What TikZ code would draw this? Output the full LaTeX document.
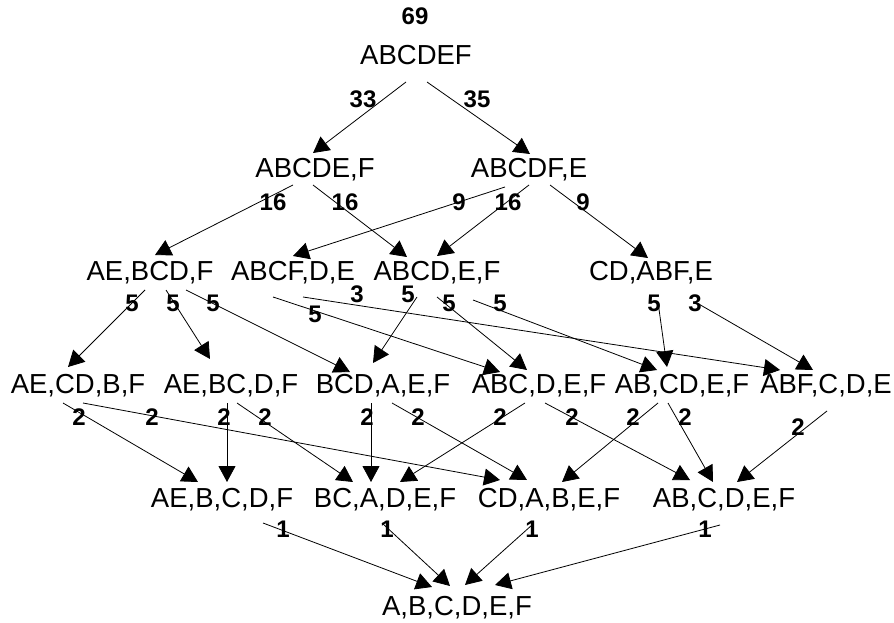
\documentclass[tikz,border=0pt]{standalone}
\usepackage{fontspec}
\setmainfont{Liberation Sans}
\usepackage{tikz}
\usetikzlibrary{arrows.meta}

\begin{document}
\begin{tikzpicture}[
	x=1pt,
	y=-1pt,
	state/.style={
		anchor=base,
		inner sep=0pt,
		font=\fontsize{27.5}{32}\selectfont
		},
	weight/.style={
		inner sep=0pt,
		font=\fontsize{24}{28}\selectfont\bfseries
		},
	link/.style={
		line width=0.8pt,
		-{Triangle[length=16pt,width=17pt]}
		}
]
\useasboundingbox (0,0) rectangle (894,623);

% Levels
\node [state, font=\fontsize{24}{28}\selectfont\bfseries] (Total) at (415,25) {69};
\node [state] (ABCDEF) at (416,65) {ABCDEF};

\node [state] (ABCDE F) at (315,177) {ABCDE,F};
\node [state] (ABCDF E) at (529,177) {ABCDF,E};

\node [state] (AE BCD F) at (150,280) {AE,BCD,F};
\node [state] (ABCF D E) at (293,280) {ABCF,D,E};
\node [state] (ABCD E F) at (437,280) {ABCD,E,F};
\node [state] (CD ABF E) at (651,280) {CD,ABF,E};

\node [state] (AE CD B F) at (78,393) {AE,CD,B,F};
\node [state] (AE BC D F) at (231,393) {AE,BC,D,F};
\node [state] (BCD A E F) at (383,393) {BCD,A,E,F};
\node [state] (ABC D E F) at (539,393) {ABC,D,E,F};
\node [state] (AB CD E F) at (682,393) {AB,CD,E,F};
\node [state] (ABF C D E) at (826,393) {ABF,C,D,E};

\node [state] (AE B C D F) at (222,507) {AE,B,C,D,F};
\node [state] (BC A D E F) at (385,507) {BC,A,D,E,F};
\node [state] (CD A B E F) at (549,507) {CD,A,B,E,F};
\node [state] (AB C D E F) at (724,507) {AB,C,D,E,F};

\node [state] (A B C D E F) at (457,615) {A,B,C,D,E,F};

% Splits
\draw [link] ([shift={(-10,17)}]ABCDEF.base) -- ([shift={(-2,-24)}]ABCDE F.base);
\draw [link] ([shift={(11,17)}]ABCDEF.base) -- ([shift={(1,-23)}]ABCDF E.base);

\draw [link] ([shift={(-22,8)}]ABCDE F.base) -- ([shift={(5,-25)}]AE BCD F.base);
\draw [link] ([shift={(-2,8)}]ABCDE F.base) -- ([shift={(-30,-23)}]ABCD E F.base);
\draw [link] ([shift={(-24,10)}]ABCDF E.base) -- ([shift={(0,-24)}]ABCF D E.base);
\draw [link] ([shift={(0,8)}]ABCDF E.base) -- ([shift={(0,-24)}]ABCD E F.base);
\draw [link] ([shift={(21,8)}]ABCDF E.base) -- ([shift={(-3,-22)}]CD ABF E.base);

\draw [link] ([shift={(-5,10)}]AE BCD F.base) -- ([shift={(-10,-26)}]AE CD B F.base);
\draw [link] ([shift={(16,10)}]AE BCD F.base) -- ([shift={(-21,-34)}]AE BC D F.base);
\draw [link] ([shift={(36,10)}]AE BCD F.base) -- ([shift={(-33,-21)}]BCD A E F.base);
\draw [link] ([shift={(-20,17)}]ABCF D E.base) -- ([shift={(-39,-21)}]ABC D E F.base);
\draw [link] ([shift={(10,17)}]ABCF D E.base) -- ([shift={(-46,-23)}]ABF C D E.base);
\draw [link] ([shift={(-20,17)}]ABCD E F.base) -- ([shift={(-10,-30)}]BCD A E F.base);
\draw [link] ([shift={(0,17)}]ABCD E F.base) -- ([shift={(-12,-23)}]ABC D E F.base);
\draw [link] ([shift={(36,20)}]ABCD E F.base) -- ([shift={(-25,-23)}]AB CD E F.base);
\draw [link] ([shift={(7,22)}]CD ABF E.base) -- ([shift={(-15,-26)}]AB CD E F.base);
\draw [link] ([shift={(46,23)}]CD ABF E.base) -- ([shift={(-13,-23)}]ABF C D E.base);

\draw [link] ([shift={(-15,10)}]AE CD B F.base) -- ([shift={(-24,-25)}]AE B C D F.base);
\draw [link] ([shift={(5,10)}]AE CD B F.base) -- ([shift={(-49,-27)}]CD A B E F.base);
\draw [link] ([shift={(-4,10)}]AE BC D F.base) -- ([shift={(5,-25)}]AE B C D F.base);
\draw [link] ([shift={(6,10)}]AE BC D F.base) -- ([shift={(-32,-25)}]BC A D E F.base);
\draw [link] ([shift={(-12,10)}]BCD A E F.base) -- ([shift={(-14,-25)}]BC A D E F.base);
\draw [link] ([shift={(9,10)}]BCD A E F.base) -- ([shift={(-22,-27)}]CD A B E F.base);
\draw [link] ([shift={(-14,10)}]ABC D E F.base) -- ([shift={(15,-25)}]BC A D E F.base);
\draw [link] ([shift={(6,10)}]ABC D E F.base) -- ([shift={(-34,-27)}]AB C D E F.base);
\draw [link] ([shift={(-24,10)}]AB CD E F.base) -- ([shift={(13,-25)}]CD A B E F.base);
\draw [link] ([shift={(-14,10)}]AB CD E F.base) -- ([shift={(-11,-25)}]AB C D E F.base);
\draw [link] ([shift={(1,18)}]ABF C D E.base) -- ([shift={(13,-25)}]AB C D E F.base);

\draw [link] ([shift={(41,16)}]AE B C D F.base) -- ([shift={(-25,-28)}]A B C D E F.base);
\draw [link] ([shift={(-3,16)}]BC A D E F.base) -- ([shift={(-7,-29)}]A B C D E F.base);
\draw [link] ([shift={(-17,18)}]CD A B E F.base) -- ([shift={(8,-30)}]A B C D E F.base);
\draw [link] ([shift={(-4,18)}]AB C D E F.base) -- ([shift={(38,-30)}]A B C D E F.base);

% Weights
\node [weight] (w1) at (363,99) {33};
\node [weight] (w2) at (477,99) {35};

\node [weight] (w3) at (273,202) {16};
\node [weight] (w4) at (345,202) {16};
\node [weight] (w5) at (459,202) {9};
\node [weight] (w6) at (508,202) {16};
\node [weight] (w7) at (583,202) {9};

\node [weight] (w8) at (132,303) {5};
\node [weight] (w9) at (173,303) {5};
\node [weight] (w10) at (213,303) {5};
\node [weight] (w11) at (315,314) {5};
\node [weight] (w12) at (357,294) {3};
\node [weight] (w13) at (408,294) {5};
\node [weight] (w14) at (449,303) {5};
\node [weight] (w15) at (500,303) {5};
\node [weight] (w16) at (654,303) {5};
\node [weight] (w17) at (695,303) {3};

\node [weight] (w18) at (79,417) {2};
\node [weight] (w19) at (152,417) {2};
\node [weight] (w20) at (224,417) {2};
\node [weight] (w21) at (265,417) {2};
\node [weight] (w22) at (367,417) {2};
\node [weight] (w23) at (418,417) {2};
\node [weight] (w24) at (500,417) {2};
\node [weight] (w25) at (572,417) {2};
\node [weight] (w26) at (633,417) {2};
\node [weight] (w27) at (685,417) {2};
\node [weight] (w28) at (798,427) {2};

\node [weight] (w29) at (283,529) {1};
\node [weight] (w30) at (387,529) {1};
\node [weight] (w31) at (532,529) {1};
\node [weight] (w32) at (705,529) {1};

\end{tikzpicture}
\end{document}
